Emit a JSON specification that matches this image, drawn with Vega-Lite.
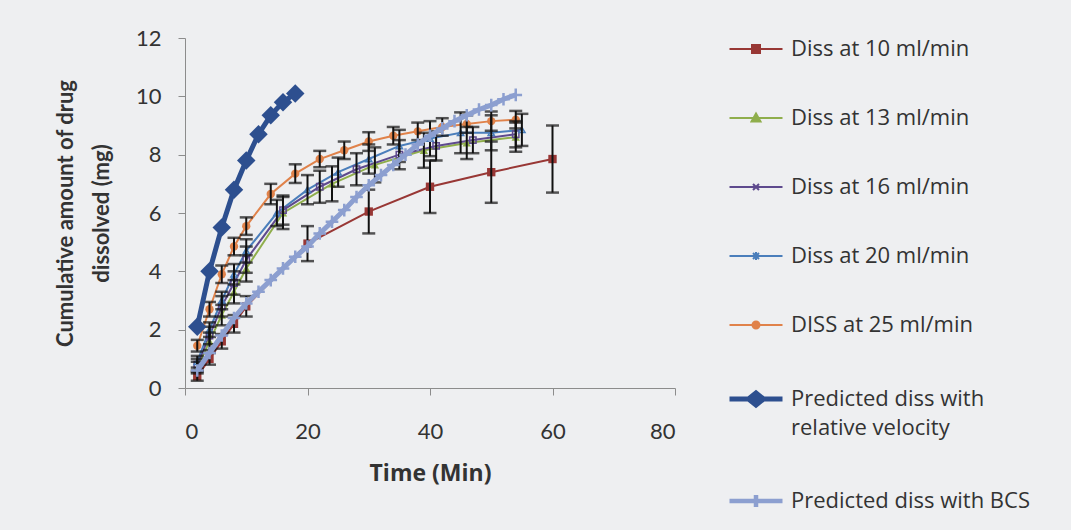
{
  "$schema": "https://vega.github.io/schema/vega-lite/v6.json",
  "width": 490,
  "height": 350,
  "autosize": "none",
  "padding": {"left": 185, "top": 38, "right": 396, "bottom": 142},
  "background": "#eeeff1",
  "config": {
    "view": {"stroke": null},
    "font": "Lato",
    "axis": {"grid": false, "domainColor": "#8c8c8c", "tickColor": "#8c8c8c", "tickSize": 7, "labelFont": "Lato", "labelFontSize": 22, "labelColor": "#333333", "titleFont": "Lato", "titleFontSize": 22, "titleFontWeight": "bold", "titleColor": "#333333"}
  },
  "datasets": {
    "d": [
      {"s": "Diss at 10 ml/min", "t": 2, "y": 0.4, "e": 0.15},
      {"s": "Diss at 10 ml/min", "t": 4, "y": 1.0, "e": 0.2},
      {"s": "Diss at 10 ml/min", "t": 6, "y": 1.6, "e": 0.25},
      {"s": "Diss at 10 ml/min", "t": 8, "y": 2.2, "e": 0.3},
      {"s": "Diss at 10 ml/min", "t": 10, "y": 2.8, "e": 0.35},
      {"s": "Diss at 10 ml/min", "t": 20, "y": 4.95, "e": 0.6},
      {"s": "Diss at 10 ml/min", "t": 30, "y": 6.05, "e": 0.75},
      {"s": "Diss at 10 ml/min", "t": 40, "y": 6.9, "e": 0.9},
      {"s": "Diss at 10 ml/min", "t": 50, "y": 7.4, "e": 1.05},
      {"s": "Diss at 10 ml/min", "t": 60, "y": 7.85, "e": 1.15},
      {"s": "Diss at 13 ml/min", "t": 2, "y": 0.7, "e": 0.2},
      {"s": "Diss at 13 ml/min", "t": 4, "y": 1.6, "e": 0.3},
      {"s": "Diss at 13 ml/min", "t": 6, "y": 2.5, "e": 0.35},
      {"s": "Diss at 13 ml/min", "t": 8, "y": 3.3, "e": 0.4},
      {"s": "Diss at 13 ml/min", "t": 10, "y": 4.1, "e": 0.45},
      {"s": "Diss at 13 ml/min", "t": 16, "y": 6.0, "e": 0.55},
      {"s": "Diss at 13 ml/min", "t": 24, "y": 7.0, "e": 0.6},
      {"s": "Diss at 13 ml/min", "t": 31, "y": 7.65, "e": 0.6},
      {"s": "Diss at 13 ml/min", "t": 39, "y": 8.15, "e": 0.6},
      {"s": "Diss at 13 ml/min", "t": 46, "y": 8.4, "e": 0.55},
      {"s": "Diss at 13 ml/min", "t": 54, "y": 8.6, "e": 0.5},
      {"s": "Diss at 16 ml/min", "t": 2, "y": 0.8, "e": 0.2},
      {"s": "Diss at 16 ml/min", "t": 4, "y": 1.8, "e": 0.3},
      {"s": "Diss at 16 ml/min", "t": 6, "y": 2.8, "e": 0.35},
      {"s": "Diss at 16 ml/min", "t": 8, "y": 3.6, "e": 0.4},
      {"s": "Diss at 16 ml/min", "t": 10, "y": 4.4, "e": 0.45},
      {"s": "Diss at 16 ml/min", "t": 16, "y": 6.1, "e": 0.5},
      {"s": "Diss at 16 ml/min", "t": 22, "y": 6.9, "e": 0.55},
      {"s": "Diss at 16 ml/min", "t": 28, "y": 7.5, "e": 0.55},
      {"s": "Diss at 16 ml/min", "t": 35, "y": 8.0, "e": 0.5},
      {"s": "Diss at 16 ml/min", "t": 41, "y": 8.3, "e": 0.5},
      {"s": "Diss at 16 ml/min", "t": 47, "y": 8.5, "e": 0.45},
      {"s": "Diss at 16 ml/min", "t": 54, "y": 8.7, "e": 0.45},
      {"s": "Diss at 20 ml/min", "t": 2, "y": 0.9, "e": 0.2},
      {"s": "Diss at 20 ml/min", "t": 4, "y": 2.0, "e": 0.25},
      {"s": "Diss at 20 ml/min", "t": 6, "y": 3.0, "e": 0.3},
      {"s": "Diss at 20 ml/min", "t": 8, "y": 3.9, "e": 0.35},
      {"s": "Diss at 20 ml/min", "t": 10, "y": 4.7, "e": 0.4},
      {"s": "Diss at 20 ml/min", "t": 15, "y": 6.0, "e": 0.45},
      {"s": "Diss at 20 ml/min", "t": 20, "y": 6.8, "e": 0.5},
      {"s": "Diss at 20 ml/min", "t": 25, "y": 7.4, "e": 0.5},
      {"s": "Diss at 20 ml/min", "t": 30, "y": 7.85, "e": 0.5},
      {"s": "Diss at 20 ml/min", "t": 35, "y": 8.3, "e": 0.55},
      {"s": "Diss at 20 ml/min", "t": 40, "y": 8.55, "e": 0.6},
      {"s": "Diss at 20 ml/min", "t": 45, "y": 8.75, "e": 0.7},
      {"s": "Diss at 20 ml/min", "t": 50, "y": 8.75, "e": 0.6},
      {"s": "Diss at 20 ml/min", "t": 55, "y": 8.85, "e": 0.55},
      {"s": "DISS at 25 ml/min", "t": 2, "y": 1.45, "e": 0.2},
      {"s": "DISS at 25 ml/min", "t": 4, "y": 2.7, "e": 0.25},
      {"s": "DISS at 25 ml/min", "t": 6, "y": 3.9, "e": 0.3},
      {"s": "DISS at 25 ml/min", "t": 8, "y": 4.85, "e": 0.3},
      {"s": "DISS at 25 ml/min", "t": 10, "y": 5.55, "e": 0.3},
      {"s": "DISS at 25 ml/min", "t": 14, "y": 6.65, "e": 0.35},
      {"s": "DISS at 25 ml/min", "t": 18, "y": 7.35, "e": 0.32},
      {"s": "DISS at 25 ml/min", "t": 22, "y": 7.85, "e": 0.28},
      {"s": "DISS at 25 ml/min", "t": 26, "y": 8.15, "e": 0.3},
      {"s": "DISS at 25 ml/min", "t": 30, "y": 8.45, "e": 0.32},
      {"s": "DISS at 25 ml/min", "t": 34, "y": 8.65, "e": 0.3},
      {"s": "DISS at 25 ml/min", "t": 38, "y": 8.8, "e": 0.3},
      {"s": "DISS at 25 ml/min", "t": 42, "y": 8.95, "e": 0.3},
      {"s": "DISS at 25 ml/min", "t": 46, "y": 9.05, "e": 0.3},
      {"s": "DISS at 25 ml/min", "t": 50, "y": 9.15, "e": 0.33},
      {"s": "DISS at 25 ml/min", "t": 54, "y": 9.2, "e": 0.3},
      {"s": "Predicted diss with relative velocity", "t": 2, "y": 2.1},
      {"s": "Predicted diss with relative velocity", "t": 4, "y": 4.0},
      {"s": "Predicted diss with relative velocity", "t": 6, "y": 5.5},
      {"s": "Predicted diss with relative velocity", "t": 8, "y": 6.8},
      {"s": "Predicted diss with relative velocity", "t": 10, "y": 7.8},
      {"s": "Predicted diss with relative velocity", "t": 12, "y": 8.7},
      {"s": "Predicted diss with relative velocity", "t": 14, "y": 9.35},
      {"s": "Predicted diss with relative velocity", "t": 16, "y": 9.8},
      {"s": "Predicted diss with relative velocity", "t": 18, "y": 10.1},
      {"s": "Predicted diss with BCS", "t": 2, "y": 0.6},
      {"s": "Predicted diss with BCS", "t": 4, "y": 1.2},
      {"s": "Predicted diss with BCS", "t": 6, "y": 1.8},
      {"s": "Predicted diss with BCS", "t": 8, "y": 2.4},
      {"s": "Predicted diss with BCS", "t": 10, "y": 2.9},
      {"s": "Predicted diss with BCS", "t": 12, "y": 3.3},
      {"s": "Predicted diss with BCS", "t": 14, "y": 3.7},
      {"s": "Predicted diss with BCS", "t": 16, "y": 4.1},
      {"s": "Predicted diss with BCS", "t": 18, "y": 4.5},
      {"s": "Predicted diss with BCS", "t": 20, "y": 4.85},
      {"s": "Predicted diss with BCS", "t": 22, "y": 5.3},
      {"s": "Predicted diss with BCS", "t": 24, "y": 5.7},
      {"s": "Predicted diss with BCS", "t": 26, "y": 6.1},
      {"s": "Predicted diss with BCS", "t": 28, "y": 6.55},
      {"s": "Predicted diss with BCS", "t": 30, "y": 6.95},
      {"s": "Predicted diss with BCS", "t": 32, "y": 7.3},
      {"s": "Predicted diss with BCS", "t": 34, "y": 7.65},
      {"s": "Predicted diss with BCS", "t": 36, "y": 8.0},
      {"s": "Predicted diss with BCS", "t": 38, "y": 8.35},
      {"s": "Predicted diss with BCS", "t": 40, "y": 8.65},
      {"s": "Predicted diss with BCS", "t": 42, "y": 8.9},
      {"s": "Predicted diss with BCS", "t": 44, "y": 9.15},
      {"s": "Predicted diss with BCS", "t": 46, "y": 9.35},
      {"s": "Predicted diss with BCS", "t": 48, "y": 9.55},
      {"s": "Predicted diss with BCS", "t": 50, "y": 9.7},
      {"s": "Predicted diss with BCS", "t": 52, "y": 9.9},
      {"s": "Predicted diss with BCS", "t": 54, "y": 10.05}
    ]
  },
  "data": {"name": "d"},
  "encoding": {
    "x": {"field": "t", "type": "quantitative", "scale": {"domain": [0, 80], "nice": false}, "axis": {"values": [0, 20, 40, 60, 80], "title": "Time (Min)", "labelPadding": 26, "titlePadding": 20, "titleFont": "Open Sans", "titleFontSize": 23}},
    "y": {"field": "y", "type": "quantitative", "scale": {"domain": [0, 12], "nice": false}, "axis": {"values": [0, 2, 4, 6, 8, 10, 12], "title": ["Cumulative amount of drug", "dissolved (mg)"], "labelPadding": 17, "titlePadding": 22, "titleLineHeight": 36}}
  },
  "layer": [
    {
      "transform": [{"filter": "isValid(datum.e)"}],
      "mark": {"type": "line", "strokeWidth": 2},
      "encoding": {
        "color": {
          "field": "s", "type": "nominal",
          "scale": {
            "domain": ["Diss at 10 ml/min", "Diss at 13 ml/min", "Diss at 16 ml/min", "Diss at 20 ml/min", "DISS at 25 ml/min", "Predicted diss with relative velocity", "Predicted diss with BCS"],
            "range": ["#983735", "#8fae4c", "#5e4a8e", "#4a7ebb", "#e0824a", "#2d4f8f", "#8c9fd0"]
          },
          "legend": {
            "title": null, "orient": "right", "offset": 70,
            "labelFont": "Open Sans", "labelFontSize": 22, "labelColor": "#333333", "labelLimit": 400,
            "symbolSize": 400, "labelOffset": 24, "rowPadding": 47,
            "labelExpr": "datum.label == 'Predicted diss with relative velocity' ? ['Predicted diss with', 'relative velocity'] : datum.label",
            "encode": {
              "labels": {"update": {"lineHeight": {"value": 29}}},
              "symbols": {
                "update": {
                  "shape": {"signal": "datum.value == 'Diss at 10 ml/min' ? 'M-2.65,0H2.65M-0.4,-0.4H0.4V0.4H-0.4Z' : datum.value == 'Diss at 13 ml/min' ? 'M-2.65,0H2.65M0,-0.45L0.45,0.35H-0.45Z' : datum.value == 'Diss at 16 ml/min' ? 'M-2.65,0H2.65M-0.3,-0.3L0.3,0.3M-0.3,0.3L0.3,-0.3' : datum.value == 'Diss at 20 ml/min' ? 'M-2.65,0H2.65M-0.3,-0.3L0.3,0.3M-0.3,0.3L0.3,-0.3M0,-0.4V0.4' : datum.value == 'DISS at 25 ml/min' ? 'M-2.65,0H2.65M-0.35,0A0.35,0.35,0,1,0,0.35,0A0.35,0.35,0,1,0,-0.35,0Z' : datum.value == 'Predicted diss with relative velocity' ? 'M-2.65,0H2.65M-0.75,0L0,-0.6L0.75,0L0,0.6Z' : 'M-2.65,0H2.65M0,-0.6V0.6'"},
                  "fill": {"scale": "color", "field": "value"},
                  "stroke": {"scale": "color", "field": "value"},
                  "strokeWidth": {"signal": "datum.value == 'Predicted diss with relative velocity' ? 5 : datum.value == 'Predicted diss with BCS' ? 4.5 : 2"},
                  "opacity": {"value": 1}
                }
              }
            }
          }
        }
      }
    },
    {
      "transform": [{"filter": "datum.s == 'Diss at 10 ml/min' || datum.s == 'Diss at 13 ml/min' || datum.s == 'DISS at 25 ml/min'"}],
      "mark": {"type": "point", "filled": true, "opacity": 1},
      "encoding": {
        "color": {"field": "s", "type": "nominal", "legend": null},
        "shape": {"field": "s", "type": "nominal", "legend": null, "scale": {"domain": ["Diss at 10 ml/min", "Diss at 13 ml/min", "DISS at 25 ml/min"], "range": ["square", "triangle-up", "circle"]}},
        "size": {"value": 70}
      }
    },
    {
      "transform": [{"filter": "datum.s == 'Diss at 16 ml/min' || datum.s == 'Diss at 20 ml/min'"}],
      "mark": {"type": "point", "filled": false, "opacity": 1, "strokeWidth": 1.5},
      "encoding": {
        "color": {"field": "s", "type": "nominal", "legend": null},
        "shape": {"field": "s", "type": "nominal", "legend": null, "scale": {"domain": ["Diss at 16 ml/min", "Diss at 20 ml/min"], "range": ["M-1,-1L1,1M-1,1L1,-1", "M-1,-1L1,1M-1,1L1,-1M0,-1.4V1.4"]}},
        "size": {"value": 40}
      }
    },
    {
      "transform": [{"filter": "isValid(datum.e)"}],
      "mark": {"type": "errorbar", "color": "#111111", "thickness": 2, "ticks": {"size": 13, "thickness": 2.5, "color": "#111111"}},
      "encoding": {
        "y": {"field": "y", "type": "quantitative"},
        "yError": {"field": "e"}
      }
    },
    {
      "transform": [{"filter": "datum.s == 'Predicted diss with relative velocity'"}],
      "mark": {"type": "line", "strokeWidth": 5},
      "encoding": {"color": {"field": "s", "type": "nominal", "legend": null}}
    },
    {
      "transform": [{"filter": "datum.s == 'Predicted diss with relative velocity'"}],
      "mark": {"type": "point", "filled": true, "opacity": 1, "shape": "diamond", "size": 340},
      "encoding": {"color": {"field": "s", "type": "nominal", "legend": null}}
    },
    {
      "transform": [{"filter": "datum.s == 'Predicted diss with BCS'"}],
      "mark": {"type": "line", "strokeWidth": 5},
      "encoding": {"color": {"field": "s", "type": "nominal", "legend": null}}
    },
    {
      "transform": [{"filter": "datum.s == 'Predicted diss with BCS'"}],
      "mark": {"type": "point", "filled": false, "opacity": 1, "shape": "M-1,0H1M0,-1V1", "size": 160, "strokeWidth": 2.5},
      "encoding": {"color": {"field": "s", "type": "nominal", "legend": null}}
    }
  ]
}
